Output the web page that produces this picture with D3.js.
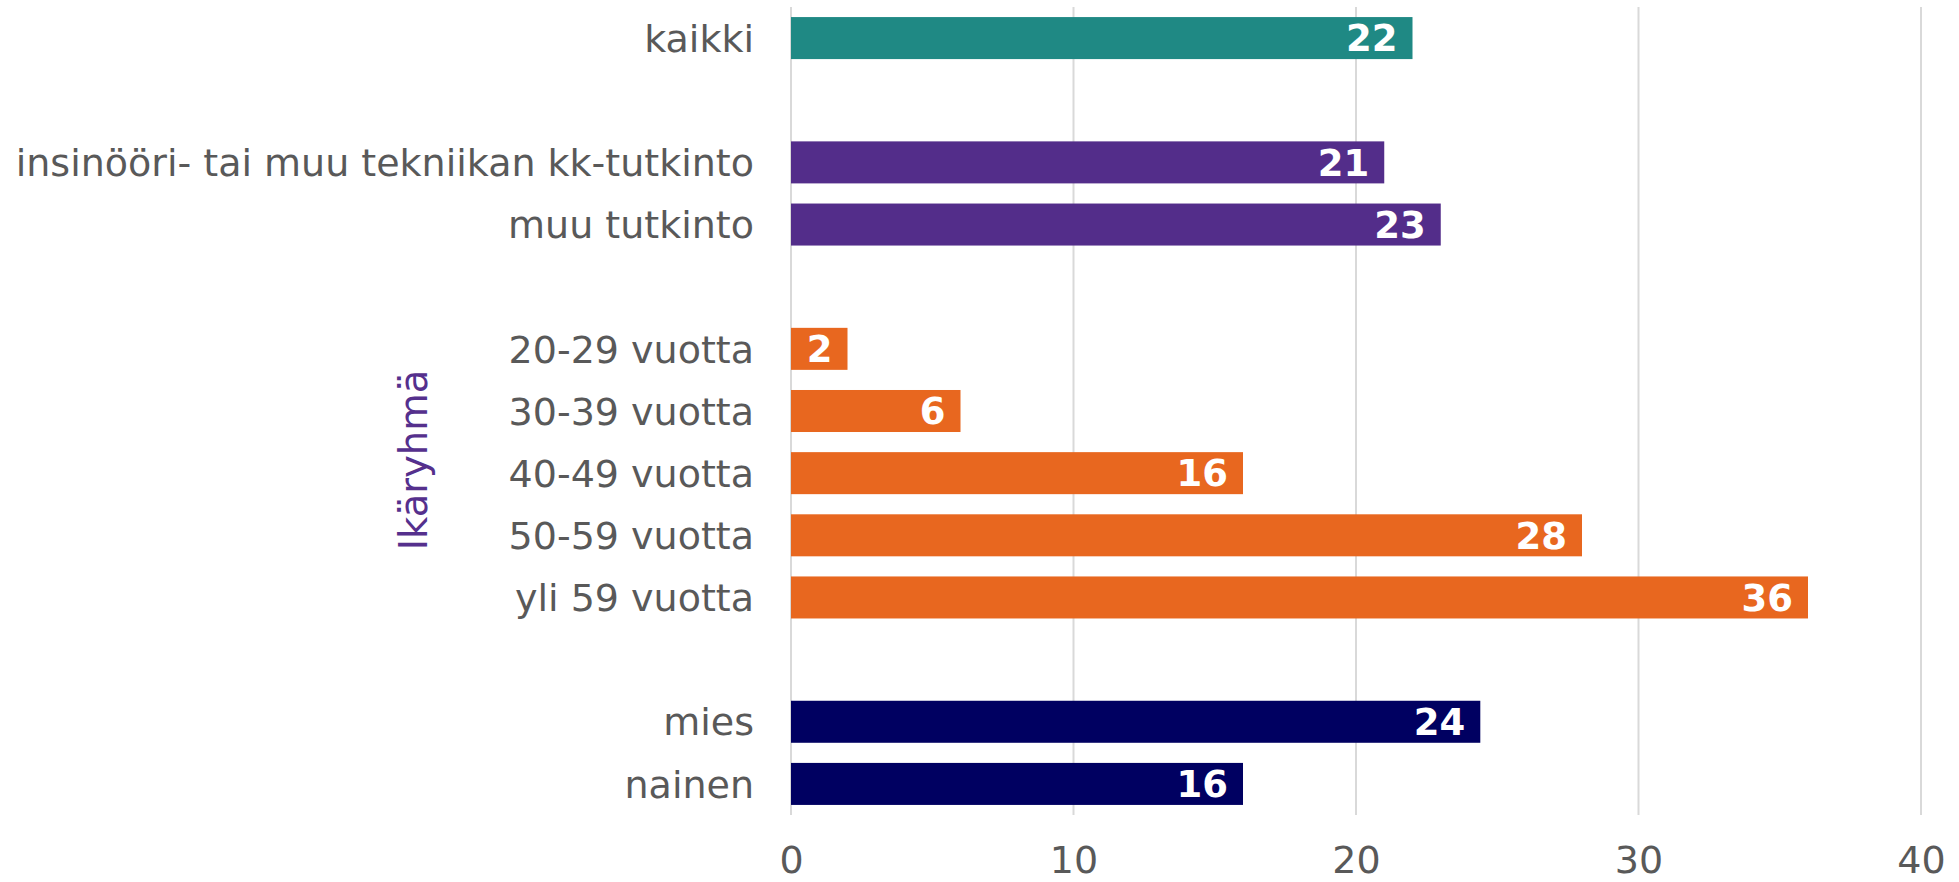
<!DOCTYPE html>
<html>
<head>
<meta charset="utf-8">
<script src="https://cdn.jsdelivr.net/npm/d3@7/dist/d3.min.js"></script>
<style>
  body { margin: 0; background: #fff; }
  text { font-family: "DejaVu Sans", Verdana, sans-serif; }
</style>
</head>
<body>
<svg id="chart"></svg>
<script>
// rows, top to bottom; null = empty spacer row
var categories = ["kaikki", null, "insinööri- tai muu tekniikan kk-tutkinto", "muu tutkinto", null,
  "20-29 vuotta", "30-39 vuotta", "40-49 vuotta", "50-59 vuotta", "yli 59 vuotta", null,
  "mies", "nainen"];
var values = [22, null, 21, 23, null, 2, 6, 16, 28, 36, null, 24.4, 16];
var groups = ["kaikki", null, "tutkinto", "tutkinto", null,
  "ika", "ika", "ika", "ika", "ika", null, "sukupuoli", "sukupuoli"];
var xTicks = [0, 10, 20, 30, 40];
var groupColors = {kaikki: "#1f8984", tutkinto: "#532d8a", ika: "#e8671f", sukupuoli: "#000061"};

var W = 1959, H = 882;
var margin = {top: 7, right: 38, bottom: 67, left: 791};

var rows = categories.map(function(c, i) {
  return {key: "r" + i, label: c, value: values[i], group: groups[i]};
});

var svg = d3.select("#chart").attr("width", W).attr("height", H);

var x = d3.scaleLinear().domain([0, 40]).range([margin.left, W - margin.right]);
var y = d3.scaleBand()
  .domain(rows.map(function(d) { return d.key; }))
  .range([margin.top, H - margin.bottom])
  .paddingInner(0.324)
  .paddingOuter(0.162);

// gridlines
svg.append("g")
  .selectAll("line")
  .data(xTicks)
  .join("line")
  .attr("x1", function(d) { return x(d); })
  .attr("x2", function(d) { return x(d); })
  .attr("y1", margin.top)
  .attr("y2", H - margin.bottom)
  .attr("stroke", "#d9d9d9")
  .attr("stroke-width", 2);

// x tick labels
var xAxis = svg.append("g")
  .attr("transform", "translate(0," + (H - margin.bottom) + ")")
  .call(d3.axisBottom(x).tickValues(xTicks).tickSize(0).tickPadding(31));
xAxis.select(".domain").remove();
xAxis.selectAll("text")
  .attr("fill", "#595959")
  .style("font-size", "38px");

var bars = rows.filter(function(d) { return d.value != null; });

svg.append("g")
  .selectAll("rect")
  .data(bars)
  .join("rect")
  .attr("x", x(0))
  .attr("y", function(d) { return y(d.key); })
  .attr("width", function(d) { return x(d.value) - x(0); })
  .attr("height", y.bandwidth())
  .attr("fill", function(d) { return groupColors[d.group]; });

// value labels inside bar ends
svg.append("g")
  .selectAll("text")
  .data(bars)
  .join("text")
  .attr("x", function(d) { return x(d.value) - 15; })
  .attr("y", function(d) { return y(d.key) + y.bandwidth() / 2; })
  .attr("dy", "0.36em")
  .attr("text-anchor", "end")
  .attr("fill", "#fff")
  .style("font-size", "37px")
  .style("font-weight", "bold")
  .text(function(d) { return d3.format(".0f")(d.value); });

// category labels
svg.append("g")
  .selectAll("text")
  .data(bars)
  .join("text")
  .attr("x", x(0) - 37)
  .attr("y", function(d) { return y(d.key) + y.bandwidth() / 2; })
  .attr("dy", "0.36em")
  .attr("text-anchor", "end")
  .attr("fill", "#595959")
  .style("font-size", "38px")
  .text(function(d) { return d.label; });

// group title
svg.append("text")
  .attr("transform", "translate(427,460) rotate(-90)")
  .attr("text-anchor", "middle")
  .attr("fill", "#55308d")
  .style("font-size", "38.5px")
  .text("Ikäryhmä");
</script>
</body>
</html>
